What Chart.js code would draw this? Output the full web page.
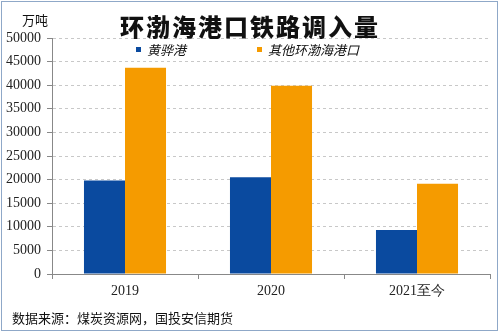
<!DOCTYPE html>
<html>
<head>
<meta charset="utf-8">
<script src="https://cdn.jsdelivr.net/npm/chart.js@4/dist/chart.umd.min.js"></script>
<style>
  html, body { margin: 0; padding: 0; background: #fff; }
  #wrap { position: relative; width: 500px; height: 335px; overflow: hidden; }
  #frame { position: absolute; left: 1px; top: 1px; width: 495px; height: 328px; border: 1px solid #8fa8c8; pointer-events: none; }
  .txt { position: absolute; white-space: nowrap; font-family: "Noto Sans CJK SC", sans-serif; color: #111; }
  #title { left: 0; width: 500px; top: 8px; text-align: center; font-size: 24px; font-weight: 900; letter-spacing: 2px; }
  #unit { left: 22px; top: 10px; font-size: 13px; }
  #source { left: 12px; top: 308px; font-size: 13px; }
  .leg { position: absolute; top: 40px; font-size: 13px; font-style: italic; font-family: "Noto Sans CJK SC", sans-serif; color: #111; }
  .leg i { display: inline-block; width: 5px; height: 5px; margin-right: 6px; vertical-align: 3px; }
</style>
</head>
<body>
<div id="wrap">
  <canvas id="chart" width="500" height="335"></canvas>
  <div class="txt" id="title">环渤海港口铁路调入量</div>
  <div class="txt" id="unit">万吨</div>
  <div class="leg" style="left:136px"><i style="background:#0a4a9f"></i>黄骅港</div>
  <div class="leg" style="left:257px"><i style="background:#f59b00"></i>其他环渤海港口</div>
  <div class="txt" id="source">数据来源：煤炭资源网，国投安信期货</div>
  <div id="frame"></div>
</div>
<script>
// ===== DATA =====
const categories = ['2019', '2020', '2021至今'];
const huanghua = [19800, 20500, 9300];
const otherPorts = [43700, 39900, 19100];
const seriesNames = ['黄骅港', '其他环渤海港口'];

const tickFont = { family: '"Liberation Serif", "Times New Roman", serif', size: 14 };

new Chart(document.getElementById('chart'), {
  type: 'bar',
  data: {
    labels: categories,
    datasets: [
      { label: seriesNames[0], data: huanghua, backgroundColor: '#0a4a9f' },
      { label: seriesNames[1], data: otherPorts, backgroundColor: '#f59b00' }
    ]
  },
  options: {
    responsive: false,
    animation: false,
    events: [],
    layout: { padding: { top: 38, right: 10, left: 0, bottom: 0 } },
    datasets: { bar: { barPercentage: 1, categoryPercentage: 0.562 } },
    plugins: { legend: { display: false }, tooltip: { enabled: false } },
    scales: {
      x: {
        afterFit: s => { s.height = 61; },
        grid: { drawOnChartArea: false, drawTicks: true, tickLength: 5, tickColor: '#888', offset: true },
        border: { color: '#888' },
        ticks: { color: '#222', font: tickFont, padding: 4 }
      },
      y: {
        min: 0,
        max: 50000,
        afterFit: s => { s.width = 52; },
        grid: {
          color: ctx => ctx.tick && ctx.tick.value === 0 ? 'rgba(0,0,0,0)' : '#c8c8c8',
          tickColor: '#888',
          tickLength: 5,
          tickBorderDash: [1, 0]
        },
        border: { color: '#888', dash: [3, 3] },
        ticks: { stepSize: 5000, color: '#222', font: tickFont, padding: 6, callback: v => String(v) }
      }
    }
  }
});
</script>
</body>
</html>
